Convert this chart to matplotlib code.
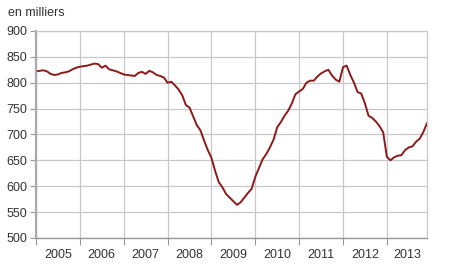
import matplotlib.pyplot as plt
import numpy as np

plt.rcParams['font.family'] = ['Liberation Sans', 'DejaVu Sans']

years = [2005, 2006, 2007, 2008, 2009, 2010, 2011, 2012, 2013]

# monthly values, Jan 2005 - Dec 2013 (thousands)
values = [
    822, 823, 824, 822, 817, 815, 816, 819, 820, 822, 826, 829,
    831, 832, 833, 835, 837, 836, 829, 833, 826, 824, 822, 819,
    816, 815, 814, 813, 819, 821, 817, 823, 820, 815, 813, 810,
    800, 802, 795, 787, 776, 757, 752, 735, 718, 708, 688, 670,
    655, 630, 608, 598, 585, 578, 571, 564, 569, 578, 587, 595,
    618, 635, 652, 662, 675, 690, 714, 724, 736, 746, 760, 778,
    783, 788, 800, 804, 804, 812, 818, 822, 825, 814, 806, 802,
    830, 833, 815, 800, 782, 779, 760, 736, 732, 725, 716, 704,
    657, 650, 656, 659, 660, 670, 675, 677, 686, 692, 705, 722,
]

x = np.arange(len(values))

fig = plt.figure(figsize=(4.5, 2.79), dpi=100)
ax = fig.add_axes([0.08, 0.147, 0.869, 0.742])

ax.plot(x, values, color='#8b1a1a', lw=1.4)

ax.set_xlim(0, 107)
ax.set_ylim(500, 900)
ax.set_yticks(range(500, 901, 50))

ax.set_xticks([12 * i for i in range(len(years))])
ax.set_xticklabels([])
ax.set_xticks([12 * i + 6 for i in range(len(years) - 1)] + [101.5], minor=True)
ax.set_xticklabels([str(y) for y in years], minor=True)
ax.tick_params(axis='x', which='minor', length=0, pad=8, labelsize=9, colors='#333333')
ax.tick_params(axis='x', which='major', length=5, color='#999999', direction='out')
ax.tick_params(axis='y', length=4, color='#999999', labelsize=9, labelcolor='#333333', pad=2)

ax.grid(True, which='major', color='#c8c8c8', lw=0.9)
ax.set_axisbelow(True)
for s in ['top', 'right']:
    ax.spines[s].set_color('#c8c8c8')
    ax.spines[s].set_linewidth(0.9)
ax.spines['left'].set_color('#aaaaaa')
ax.spines['left'].set_linewidth(1.6)
ax.spines['bottom'].set_color('#999999')
ax.spines['bottom'].set_linewidth(1.0)

fig.text(0.018, 0.955, 'en milliers', fontsize=9, color='#333333', va='center')

fig.savefig('out.png', dpi=100)
